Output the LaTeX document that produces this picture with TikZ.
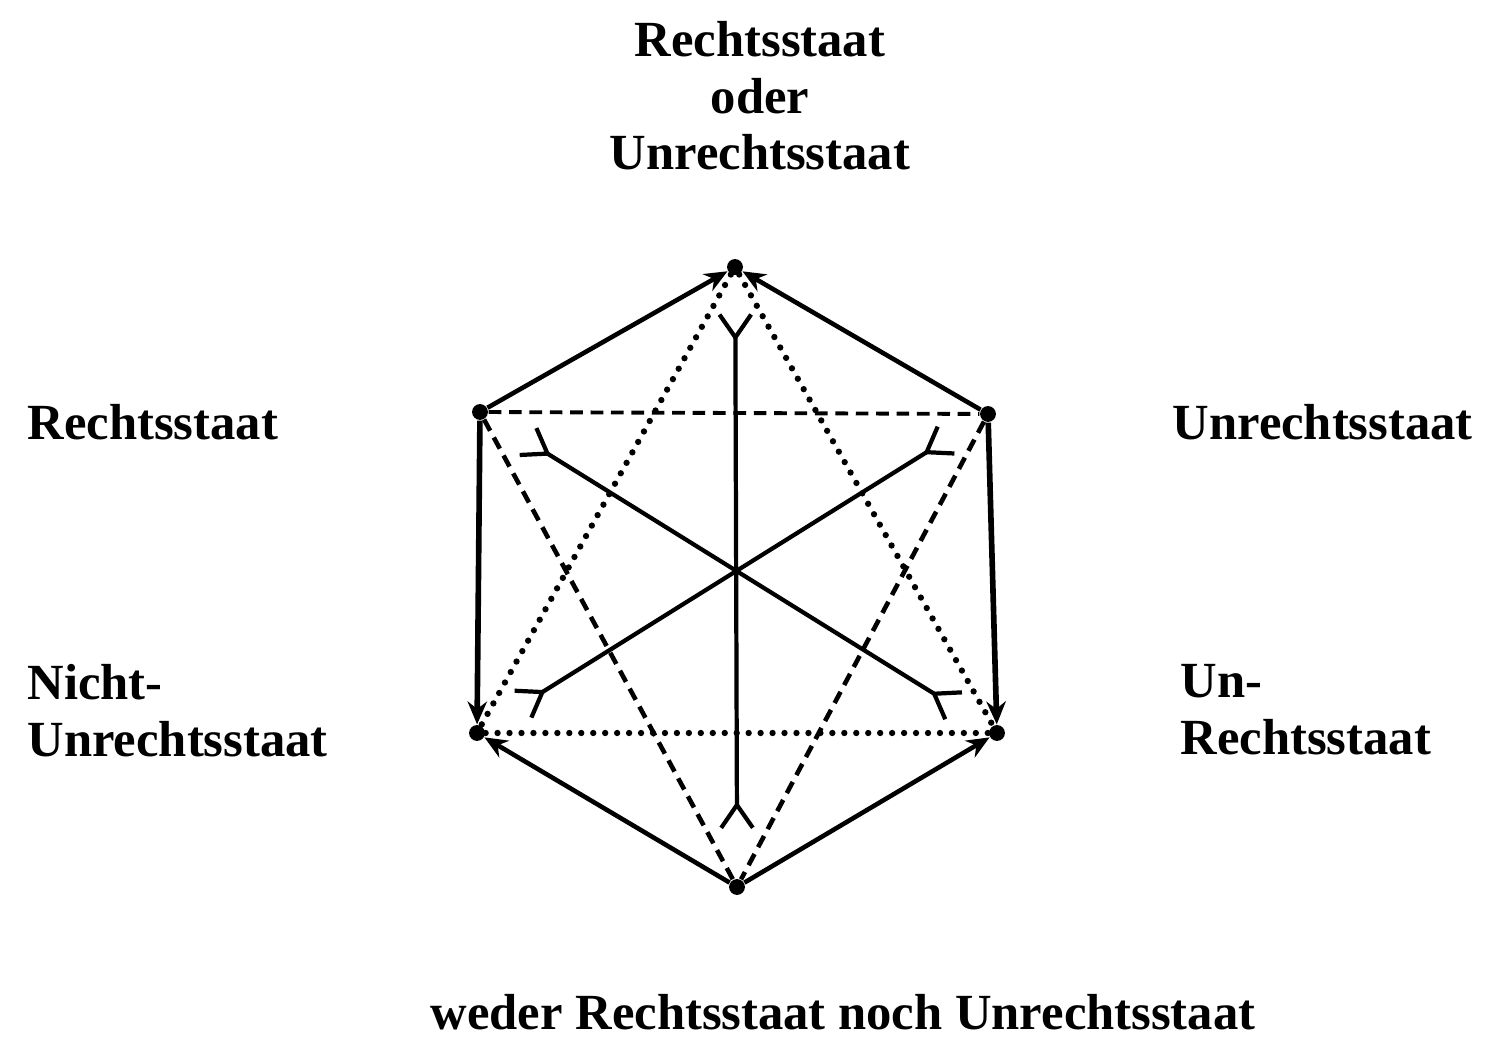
\documentclass[tikz,border=0pt]{standalone}
\usepackage{fontspec}
\setmainfont{Liberation Serif}
\usetikzlibrary{arrows.meta,calc}
\tikzset{>={Straight Barb[length=6.5pt,width=9pt]}}

\begin{document}
\begin{tikzpicture}[x=0.01cm, y=-0.01cm, vertex/.style={circle,fill=black,inner sep=0pt,minimum size=4.5pt}, edge/.style={line width=1.3pt,-{Stealth[length=6.5pt,width=5.5pt]}}, side/.style={edge,line width=1.6pt}, contra/.style={line width=1.2pt,>-<}, dashes/.style={line width=1.1pt,dash pattern=on 3.6pt off 2.2pt}, dots/.style={line width=1.8pt,line cap=round,dash pattern=on 0pt off 3.4pt}, term/.style={font=\fontsize{14.4}{16}\selectfont\bfseries,inner sep=0pt}]

    \useasboundingbox (0,0) rectangle (1487,1055);

    % Vertices
    \coordinate (O) at (737,570);
    \node[vertex] (T) at (735,267) {};
    \node[vertex] (L) at (480,412) {};
    \node[vertex] (R) at (988,414) {};
    \node[vertex] (NL) at (477,733) {};
    \node[vertex] (NR) at (997,733) {};
    \node[vertex] (B) at (737,887) {};

    % Hexagon
    \draw[edge] (L) -- (T);
    \draw[edge] (R) -- (T);
    \draw[side] (L) -- (NL);
    \draw[side] (R) -- (NR);
    \draw[edge] (B) -- (NL);
    \draw[edge] (B) -- (NR);

    % Triangles
    \draw[dashes] (L) -- (R);
    \draw[dashes, line width=1.3pt] (L) -- (B);
    \draw[dashes, line width=1.3pt] (R) -- (B);
    \draw[dots] (T) -- (NL);
    \draw[dots] (T) -- (NR);
    \draw[dots] (NL) -- (NR);

    % Contradictories
    \coordinate (t) at ($(O)!0.85!(T)$);
    \coordinate (b) at ($(O)!0.82!(B)$);
    \coordinate (l) at ($(O)!0.82!(L)$);
    \coordinate (r) at ($(O)!0.84!(R)$);
    \coordinate (nl) at ($(O)!0.83!(NL)$);
    \coordinate (nr) at ($(O)!0.84!(NR)$);
    \draw[contra] (t) -- (b);
    \draw[contra] (l) -- (nr);
    \draw[contra] (r) -- (nl);

    % Labels
    \node[term, align=center, anchor=north] (top) at (760,21) {Rechtsstaat\\oder\\Unrechtsstaat};
    \node[term, anchor=base west] (rs) at (27,440) {Rechtsstaat};
    \node[term, anchor=base west] (us) at (1172,440) {Unrechtsstaat};
    \node[term, align=left, anchor=north west] (nus) at (27,664) {Nicht-\\Unrechtsstaat};
    \node[term, align=left, anchor=north west] (urs) at (1180,664) {Un-\\Rechtsstaat};
    \node[term, anchor=base] (wn) at (843,1030) {weder Rechtsstaat noch Unrechtsstaat};
\end{tikzpicture}
\end{document}
